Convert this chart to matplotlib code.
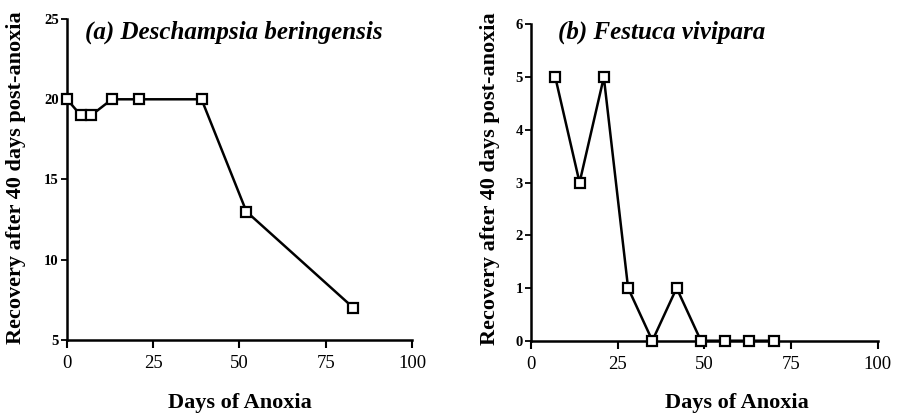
"""
Recovery of two arctic grasses after increasing periods of anoxia.
Two panels side by side, open-square markers joined by lines.
"""
import matplotlib
matplotlib.use("Agg")
import matplotlib.pyplot as plt

# Panel (a): Deschampsia beringensis
days_a = [0, 4, 7, 13, 21, 39, 52, 83]
recovery_a = [20, 19, 19, 20, 20, 20, 13, 7]

# Panel (b): Festuca vivipara
days_b = [7, 14, 21, 28, 35, 42, 49, 56, 63, 70]
recovery_b = [5, 3, 5, 1, 0, 1, 0, 0, 0, 0]

x_ticks = [0, 25, 50, 75, 100]
y_ticks_a = [5, 10, 15, 20, 25]
y_ticks_b = [0, 1, 2, 3, 4, 5, 6]

title_a = "(a) Deschampsia beringensis"
title_b = "(b) Festuca vivipara"
xlabel = "Days of Anoxia"
ylabel = "Recovery after 40 days post-anoxia"

plt.rcParams["font.family"] = ["Liberation Serif", "DejaVu Serif"]

fig = plt.figure(figsize=(8.97, 4.15), dpi=100)
ax_a = fig.add_axes([0.0747, 0.181, 0.3846, 0.773])
ax_b = fig.add_axes([0.592, 0.179, 0.3865, 0.762])


def style_axes(ax, ylim, yticks):
    ax.set_xlim(0, 100)
    ax.set_ylim(*ylim)
    ax.set_xticks(x_ticks)
    ax.set_yticks(yticks)
    for side in ("top", "right"):
        ax.spines[side].set_visible(False)
    for side in ("left", "bottom"):
        ax.spines[side].set_linewidth(1.8)
        ax.spines[side].set_color("black")
    ax.tick_params(axis="x", direction="out", length=6, width=1.5,
                   labelsize=13.5, pad=5)
    ax.tick_params(axis="y", direction="out", length=4, width=1.3,
                   labelsize=10.5, pad=2)
    for lab in ax.get_yticklabels():
        lab.set_fontweight("bold")
    ax.set_ylabel(ylabel, fontsize=16, fontweight="bold")
    ax.set_xlabel(xlabel, fontsize=16, fontweight="bold", va="top")


def draw(ax, x, y):
    ax.plot(x, y, color="black", linewidth=1.8, marker="s", markersize=7.5,
            markerfacecolor="white", markeredgecolor="black",
            markeredgewidth=1.6, clip_on=False, zorder=3)


draw(ax_a, days_a, recovery_a)
style_axes(ax_a, (5, 25), y_ticks_a)
ax_a.yaxis.set_label_coords(-0.119, 0.505)
ax_a.xaxis.set_label_coords(0.5, -0.165)
ax_a.text(0.052, 0.96, title_a, transform=ax_a.transAxes, fontsize=18,
          fontweight="bold", fontstyle="italic", va="center", ha="left")

draw(ax_b, days_b, recovery_b)
style_axes(ax_b, (0, 6), y_ticks_b)
ax_b.yaxis.set_label_coords(-0.089, 0.511)
ax_b.xaxis.set_label_coords(0.594, -0.165)
ax_b.text(0.078, 0.976, title_b, transform=ax_b.transAxes, fontsize=18,
          fontweight="bold", fontstyle="italic", va="center", ha="left")

fig.savefig("out.png", dpi=100)
